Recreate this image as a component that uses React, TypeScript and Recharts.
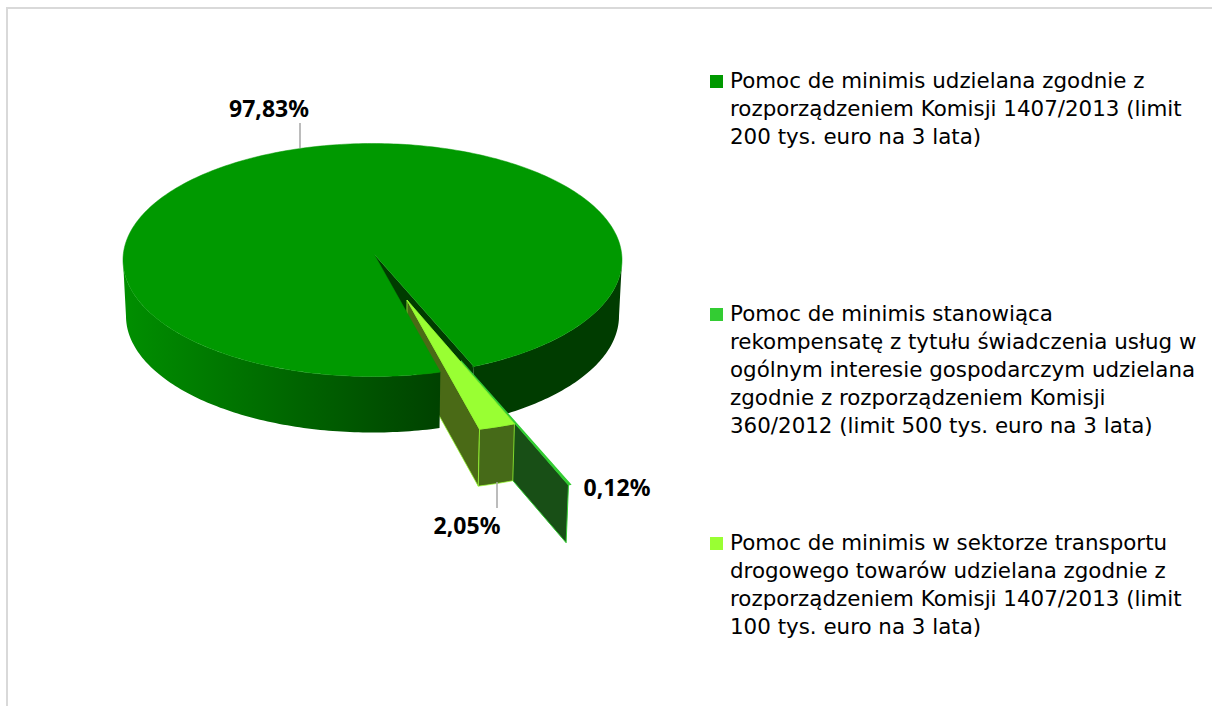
import React from "react";
import { PieChart, Pie, Legend } from "recharts";

const categories = [
  "Pomoc de minimis udzielana zgodnie z rozporządzeniem Komisji 1407/2013 (limit 200 tys. euro na 3 lata)",
  "Pomoc de minimis stanowiąca rekompensatę z tytułu świadczenia usług w ogólnym interesie gospodarczym udzielana zgodnie z rozporządzeniem Komisji 360/2012 (limit 500 tys. euro na 3 lata)",
  "Pomoc de minimis w sektorze transportu drogowego towarów udzielana zgodnie z rozporządzeniem Komisji 1407/2013 (limit 100 tys. euro na 3 lata)",
];
const shares = [97.83, 0.12, 2.05];
const colors = ["#009900", "#33cc33", "#99ff33"];
const valueLabels = ["97,83%", "0,12%", "2,05%"];

const legendLines = [
  [
    "Pomoc de minimis udzielana zgodnie z",
    "rozporządzeniem Komisji 1407/2013 (limit",
    "200 tys. euro na 3 lata)",
  ],
  [
    "Pomoc de minimis stanowiąca",
    "rekompensatę z tytułu świadczenia usług w",
    "ogólnym interesie gospodarczym udzielana",
    "zgodnie z rozporządzeniem Komisji",
    "360/2012 (limit 500 tys. euro na 3 lata)",
  ],
  [
    "Pomoc de minimis w sektorze transportu",
    "drogowego towarów udzielana zgodnie z",
    "rozporządzeniem Komisji 1407/2013 (limit",
    "100 tys. euro na 3 lata)",
  ],
];

const data = categories.map((name, i) => ({ name, value: shares[i], fill: colors[i] }));

const LEGEND_FONT = "'DejaVu Sans', sans-serif";
const LABEL_FONT = "'Noto Sans', sans-serif";
const SQUASH = 0.467;
const TAPER = 0.988;
const PIE_CX = 372.5;

// how far each slice is pulled out of the pie, and how much bigger it looks up front
const explode = [
  { dx: 1.5, dy: -6, grow: 1, depth: 56 },
  { dx: 88.5, dy: 101, grow: 1.146, depth: 58 },
  { dx: 34.5, dy: 40, grow: 1.146, depth: 57 },
];

const labelBoxes = [
  { x: 269, y: 108, line: [300, 123, 300, 148] },
  { x: 617, y: 487, line: null },
  { x: 467, y: 525, line: [497, 482, 497, 508] },
];
const legendTops = [67, 300, 529];

type Pt = [number, number];
const toPath = (pts: Pt[]) =>
  "M" + pts.map((p) => p[0].toFixed(2) + "," + p[1].toFixed(2)).join("L") + "Z";
const rad = (d: number) => (d * Math.PI) / 180;

// big slice has its tip off the ellipse centre, so shoot a ray from the tip to the rim
const rimFromTip = (cx: number, cy: number, r: number, tip: Pt, deg: number): Pt => {
  const ry = r * SQUASH;
  const ux = Math.cos(rad(deg));
  const uy = Math.sin(rad(deg)) * SQUASH;
  const ox = (tip[0] - cx) / r;
  const oy = (tip[1] - cy) / ry;
  const a = ux * ux + (uy * uy) / (SQUASH * SQUASH);
  const b = 2 * (ox * ux + (oy * uy) / SQUASH);
  const c = ox * ox + oy * oy - 1;
  const t = (-b + Math.sqrt(b * b - 4 * a * c)) / (2 * a);
  return [tip[0] + t * ux * r, tip[1] + t * uy * r];
};

const arcPoints = (cx: number, cy: number, r: number, from: number, to: number): Pt[] => {
  const n = Math.max(2, Math.ceil(Math.abs(to - from)));
  const pts: Pt[] = [];
  for (let i = 0; i <= n; i++) {
    const d = rad(from + ((to - from) * i) / n);
    pts.push([cx + r * Math.cos(d), cy + r * SQUASH * Math.sin(d)]);
  }
  return pts;
};

// layer "back" goes under the big slice's top, layer "front" over everything
const makeShape = (layer: "back" | "front") => (props: any) => {
  const { cx, cy, outerRadius, startAngle, endAngle, index } = props;
  const ex = explode[index];
  const from = -startAngle;
  const to = -endAngle;
  const r = outerRadius * ex.grow;
  const below = (p: Pt): Pt => [PIE_CX + (p[0] - PIE_CX) * TAPER, p[1] + ex.depth];
  const wall = (rim: Pt[]) => toPath([...rim, ...rim.map(below).reverse()]);

  if (index === 0) {
    const tip: Pt = [cx + ex.dx, cy + ex.dy];
    const first = rimFromTip(cx, cy, r, tip, from);
    const last = rimFromTip(cx, cy, r, tip, to);
    const cutFace = toPath([tip, last, below(last), below(tip)]);
    if (layer === "back") {
      const rightRim = arcPoints(cx, cy, r, to - 360, 0);
      rightRim[0] = last;
      return (
        <g>
          <path d={cutFace} fill="#003c00" />
          <path d={wall(rightRim)} fill="#003c00" />
        </g>
      );
    }
    const leftRim = arcPoints(cx, cy, r, from, 180);
    leftRim[0] = first;
    const topRim = arcPoints(cx, cy, r, from, to);
    topRim[0] = first;
    topRim[topRim.length - 1] = last;
    return (
      <g>
        <path d={wall(leftRim)} fill="url(#wallLeft)" />
        <path d={toPath([tip, ...topRim])} fill={colors[0]} stroke={colors[0]} strokeWidth={0.5} />
      </g>
    );
  }
  if (layer === "front") return <g />;

  const c: Pt = [cx + ex.dx, cy + ex.dy];
  const rim = arcPoints(c[0], c[1], r, from, to);
  const edge = rim[rim.length - 1];
  if (index === 1) {
    return (
      <g>
        <path d={toPath([c, edge, below(edge), below(c)])} fill="#184f16" stroke={colors[1]} strokeWidth={1} />
        <path d={toPath([c, ...rim])} fill={colors[1]} stroke={colors[1]} strokeWidth={1.2} />
      </g>
    );
  }
  return (
    <g stroke={colors[2]} strokeWidth={1} strokeOpacity={0.75}>
      <path d={toPath([c, edge, below(edge), below(c)])} fill="#4a6a16" />
      <path d={wall(rim)} fill="#466a18" />
      <path d={toPath([c, ...rim])} fill={colors[2]} />
    </g>
  );
};

const renderLabel = (props: any) => {
  const box = labelBoxes[props.index];
  return (
    <g>
      {box.line && (
        <line
          x1={box.line[0]}
          y1={box.line[1]}
          x2={box.line[2]}
          y2={box.line[3]}
          stroke="#a6a6a6"
          strokeWidth={1.5}
        />
      )}
      <text
        x={box.x}
        y={box.y}
        textAnchor="middle"
        dominantBaseline="central"
        fontFamily={LABEL_FONT}
        fontWeight="bold"
        fontSize={23}
        fill="#000"
      >
        {valueLabels[props.index]}
      </text>
    </g>
  );
};

const renderLegend = () => (
  <div style={{ position: "relative", fontFamily: LEGEND_FONT, fontSize: 21.4, lineHeight: "28px", color: "#000" }}>
    {legendLines.map((lines, i) => (
      <div key={i} style={{ position: "absolute", left: 0, top: legendTops[i], whiteSpace: "nowrap" }}>
        <span
          style={{
            position: "absolute",
            left: 1,
            top: 8,
            width: 13,
            height: 13,
            background: colors[i],
          }}
        />
        <div style={{ marginLeft: 21 }}>
          {lines.map((t, j) => (
            <div key={j}>{t}</div>
          ))}
        </div>
      </div>
    ))}
  </div>
);

export default function App() {
  return (
    <div style={{ position: "absolute", left: 0, top: 0, width: 1212, height: 706, overflow: "hidden", background: "#fff" }}>
      <div
        style={{
          position: "absolute",
          left: 6,
          top: 7,
          right: -4,
          bottom: -4,
          borderLeft: "2px solid #d9d9d9",
          borderTop: "2px solid #d9d9d9",
        }}
      />
      <PieChart width={1212} height={706} margin={{ top: 0, right: 0, bottom: 0, left: 0 }}>
        <defs>
          <linearGradient id="wallLeft" gradientUnits="userSpaceOnUse" x1="123" y1="0" x2="439" y2="0">
            <stop offset="0%" stopColor="#008f00" />
            <stop offset="100%" stopColor="#004200" />
          </linearGradient>
        </defs>
        <Pie
          data={data}
          dataKey="value"
          nameKey="name"
          cx={PIE_CX}
          cy={260}
          outerRadius={249.5}
          startAngle={-75.3}
          endAngle={-435.3}
          stroke="none"
          legendType="rect"
          labelLine={false}
          shape={makeShape("back")}
          isAnimationActive={false}
        />
        <Pie
          data={data}
          dataKey="value"
          nameKey="name"
          cx={PIE_CX}
          cy={260}
          outerRadius={249.5}
          startAngle={-75.3}
          endAngle={-435.3}
          stroke="none"
          legendType="none"
          labelLine={false}
          label={renderLabel}
          shape={makeShape("front")}
          isAnimationActive={false}
        />
        <Legend
          layout="vertical"
          align="right"
          verticalAlign="top"
          content={renderLegend}
          wrapperStyle={{ left: 709, top: 0, width: 490, height: 0 }}
        />
      </PieChart>
    </div>
  );
}
